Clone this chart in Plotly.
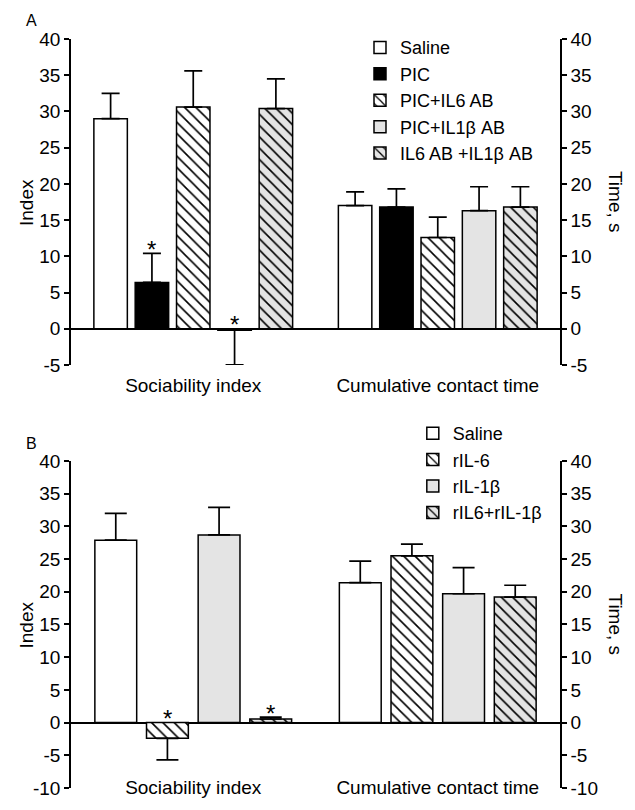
import plotly.graph_objects as go

# ---------------- data ----------------
groups = ["Sociability index", "Cumulative contact time"]

a_names = ["Saline", "PIC", "PIC+IL6 AB", "PIC+IL1β AB", "IL6 AB +IL1β AB"]
a_soc = [29.0, 6.4, 30.6, -0.2, 30.4]
a_soc_err = [3.5, 4.0, 5.0, 4.8, 4.1]
a_cum = [17.0, 16.8, 12.6, 16.3, 16.8]
a_cum_err = [1.9, 2.5, 2.8, 3.3, 2.8]
a_sig = [False, True, False, True, False]

b_names = ["Saline", "rIL-6", "rIL-1β", "rIL6+rIL-1β"]
b_soc = [27.9, -2.4, 28.7, 0.55]
b_soc_err = [4.1, 3.3, 4.2, 0.3]
b_cum = [21.4, 25.5, 19.7, 19.2]
b_cum_err = [3.3, 1.8, 4.0, 1.8]
b_sig = [False, True, False, True]

a_tickvals = [-5, 0, 5, 10, 15, 20, 25, 30, 35, 40]
a_ticktext = ["-5", "0", "5", "10", "15", "20", "25", "30", "35", "40"]
b_tickvals = [-10, -5, 0, 5, 10, 15, 20, 25, 30, 35, 40]
b_ticktext = ["-10", "-5", "0", "5", "10", "15", "20", "25", "30", "35", "40"]

# ---------------- styles ----------------
GRAY = "#e4e4e4"
a_styles = [("white", ""), ("black", ""), ("white", "\\"), (GRAY, ""), (GRAY, "\\")]
b_styles = [("white", ""), ("white", "\\"), (GRAY, ""), (GRAY, "\\")]
FONT = "Liberation Sans, Arial, sans-serif"
BARGAP = 0.155
BARGROUPGAP = 0.19

fig = go.Figure()


def add_panel(names, soc, soc_err, cum, cum_err, styles, xa, ya, leg, capw):
    for i, name in enumerate(names):
        vals = [soc[i], cum[i]]
        errs = [soc_err[i], cum_err[i]]
        up = [e if v >= 0 else 0 for v, e in zip(vals, errs)]
        down = [e if v < 0 else 0 for v, e in zip(vals, errs)]
        fill, shape = styles[i]
        fig.add_trace(go.Bar(
            x=groups, y=vals, name=name, xaxis=xa, yaxis=ya, legend=leg,
            marker=dict(color=fill, line=dict(color="black", width=1.5),
                        pattern=dict(shape=shape, fgcolor="black", bgcolor=fill,
                                     size=8, solidity=0.2, fillmode="replace")),
            error_y=dict(type="data", symmetric=False, array=up, arrayminus=down,
                         color="black", thickness=1.7, width=capw),
            hoverinfo="skip",
        ))


add_panel(a_names, a_soc, a_soc_err, a_cum, a_cum_err, a_styles, "x", "y", "legend", 9)
add_panel(b_names, b_soc, b_soc_err, b_cum, b_cum_err, b_styles, "x2", "y2", "legend2", 11)

# empty traces so the right-hand (time) axes are drawn
fig.add_trace(go.Scatter(x=groups, y=[None, None], xaxis="x", yaxis="y3",
                         showlegend=False, hoverinfo="skip", mode="markers"))
fig.add_trace(go.Scatter(x=groups, y=[None, None], xaxis="x2", yaxis="y4",
                         showlegend=False, hoverinfo="skip", mode="markers"))

annotations = []


def add_stars(soc, soc_err, sig, xref, yref):
    n = len(soc)
    for i in range(n):
        if not sig[i]:
            continue
        v = soc[i]
        top = v + soc_err[i] if v > 0 else 0
        xpos = 0 + (i - (n - 1) / 2) * (1 - BARGAP) / n
        annotations.append(dict(x=xpos, y=top, xref=xref, yref=yref, text="*",
                                showarrow=False, yanchor="middle", yshift=4,
                                font=dict(size=24, color="black", family=FONT)))


add_stars(a_soc, a_soc_err, a_sig, "x", "y")
add_stars(b_soc, b_soc_err, b_sig, "x2", "y2")

# panel letters and axis titles
annotations += [
    dict(text="A", x=-0.08, y=1.025, xref="paper", yref="paper", showarrow=False,
         xanchor="center", yanchor="middle", font=dict(size=16, family=FONT, color="black")),
    dict(text="B", x=-0.08, y=0.4606, xref="paper", yref="paper", showarrow=False,
         xanchor="center", yanchor="middle", font=dict(size=16, family=FONT, color="black")),
    dict(text="Index", x=-0.09, y=0.7824, xref="paper", yref="paper", showarrow=False,
         textangle=-90, xanchor="center", yanchor="middle",
         font=dict(size=19, family=FONT, color="black")),
    dict(text="Index", x=-0.09, y=0.2183, xref="paper", yref="paper", showarrow=False,
         textangle=-90, xanchor="center", yanchor="middle",
         font=dict(size=19, family=FONT, color="black")),
    dict(text="Time, s", x=1.1125, y=0.7824, xref="paper", yref="paper", showarrow=False,
         textangle=90, xanchor="center", yanchor="middle",
         font=dict(size=19, family=FONT, color="black")),
    dict(text="Time, s", x=1.1125, y=0.2183, xref="paper", yref="paper", showarrow=False,
         textangle=90, xanchor="center", yanchor="middle",
         font=dict(size=19, family=FONT, color="black")),
]

yax_common = dict(showline=True, linecolor="black", linewidth=1.5, ticks="outside",
                  ticklen=5, tickwidth=1.5, tickcolor="black", showgrid=False,
                  tickfont=dict(size=19, family=FONT, color="black"))
xax_common = dict(range=[-0.5, 1.5], showline=False, ticks="", showgrid=False,
                  zeroline=False, ticklabelstandoff=7,
                  tickfont=dict(size=19, family=FONT, color="black"))

fig.update_layout(
    width=635, height=810,
    margin=dict(l=71, r=75, t=39, b=22),
    paper_bgcolor="white", plot_bgcolor="white",
    barmode="group", bargap=BARGAP, bargroupgap=BARGROUPGAP,
    font=dict(family=FONT, color="black"),
    xaxis=dict(anchor="y", **xax_common),
    xaxis2=dict(anchor="free", position=0.028, **xax_common),
    yaxis=dict(domain=[0.5648, 1.0], range=[-5, 40], tickvals=a_tickvals, ticktext=a_ticktext,
               zeroline=True, zerolinecolor="black", zerolinewidth=1.5, anchor="x", **yax_common),
    yaxis2=dict(domain=[0.0, 0.4366], range=[-10, 40], tickvals=b_tickvals, ticktext=b_ticktext,
                zeroline=True, zerolinecolor="black", zerolinewidth=1.5, anchor="x2", **yax_common),
    yaxis3=dict(overlaying="y", side="right", anchor="x", range=[-5, 40], tickvals=a_tickvals,
                ticktext=a_ticktext, zeroline=False, **yax_common),
    yaxis4=dict(overlaying="y2", side="right", anchor="x2", range=[-10, 40], tickvals=b_tickvals,
                ticktext=b_ticktext, zeroline=False, **yax_common),
    legend=dict(x=0.591, y=1.013, xanchor="left", yanchor="top", bgcolor="rgba(0,0,0,0)",
                font=dict(size=18, family=FONT, color="black"), tracegroupgap=0),
    legend2=dict(x=0.699, y=0.498, xanchor="left", yanchor="top", bgcolor="rgba(0,0,0,0)",
                 font=dict(size=18, family=FONT, color="black"), tracegroupgap=0),
    annotations=annotations,
    showlegend=True,
)

fig.write_html(
    "out.html",
    config={"displayModeBar": False},
    post_script="document.body.style.margin='0';document.body.style.overflow='hidden';",
)
